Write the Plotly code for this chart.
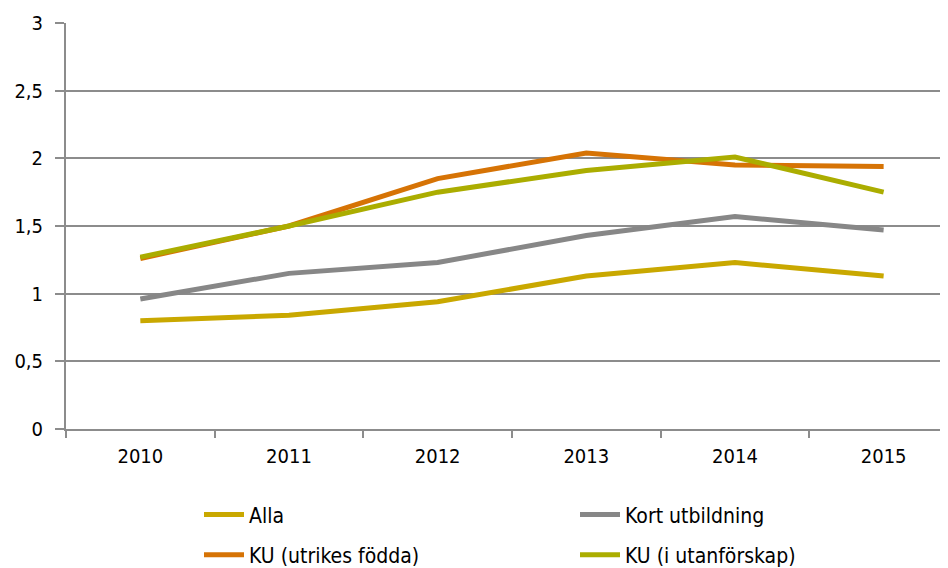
import plotly.graph_objects as go

years = ["2010", "2011", "2012", "2013", "2014", "2015"]
alla = [0.80, 0.84, 0.94, 1.13, 1.23, 1.13]
kort = [0.96, 1.15, 1.23, 1.43, 1.57, 1.47]
ku_utrikes = [1.26, 1.50, 1.85, 2.04, 1.95, 1.94]
ku_utanfor = [1.27, 1.50, 1.75, 1.91, 2.01, 1.75]
y_ticks = [0, 0.5, 1, 1.5, 2, 2.5, 3]
y_ticklabels = ["0", "0,5", "1", "1,5", "2", "2,5", "3"]

series = [
    ("Alla", alla, "#C9A800", "legend"),
    ("Kort utbildning", kort, "#878787", "legend"),
    ("KU (utrikes födda)", ku_utrikes, "#D67305", "legend2"),
    ("KU (i utanförskap)", ku_utanfor, "#ABAD00", "legend2"),
]

FONT = "DejaVu Sans Condensed, Noto Sans, sans-serif"

# page body has an 8px margin: figure is sized so it ends exactly at the window edge
W, H = 940, 560
L, T = 58, 15
PLOT_W = W - L
PLOT_H = 421 - T

fig = go.Figure()
for name, vals, col, lg in series:
    fig.add_trace(go.Scatter(
        x=years, y=vals, name=name, mode="lines",
        line=dict(color=col, width=5), legend=lg,
    ))

legend_common = dict(
    orientation="h", xanchor="left", yanchor="top",
    entrywidth=321, entrywidthmode="pixels",
    font=dict(family=FONT, size=21, color="#000000"),
    bgcolor="rgba(0,0,0,0)", itemwidth=40,
)

fig.update_layout(
    width=W, height=H,
    margin=dict(l=L, r=0, t=T, b=H - 421, autoexpand=False),
    paper_bgcolor="white", plot_bgcolor="white",
    font=dict(family=FONT, size=20, color="#000000"),
    showlegend=True,
    legend=dict(x=(191 - L) / PLOT_W, y=-0.161, **legend_common),
    legend2=dict(x=(191 - L) / PLOT_W, y=-0.26, **legend_common),
    xaxis=dict(
        type="category", range=[-0.5, 5.433], automargin=False,
        showgrid=False, showline=True, linecolor="#8C8C8C", linewidth=2,
        ticks="outside", tickson="boundaries", ticklen=7, tickcolor="#8C8C8C", tickwidth=1.5,
        tickfont=dict(family=FONT, size=20, color="#000000"),
        ticklabelstandoff=8,
        zeroline=False,
    ),
    yaxis=dict(
        range=[0, 3], tickvals=y_ticks, ticktext=y_ticklabels, automargin=False,
        showgrid=True, gridcolor="#8C8C8C", gridwidth=1.5,
        showline=True, linecolor="#8C8C8C", linewidth=2,
        ticks="outside", ticklen=9, tickcolor="#8C8C8C", tickwidth=1.5,
        tickfont=dict(family=FONT, size=20, color="#000000"),
        ticklabelstandoff=8,
        zeroline=False,
    ),
)

fig.write_html("out.html")
